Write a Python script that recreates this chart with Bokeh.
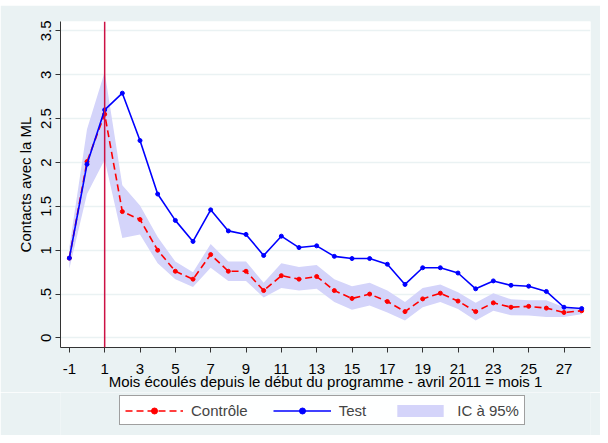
from bokeh.plotting import figure
from bokeh.models import (Range1d, FixedTicker, Legend, LegendItem, Span, Spacer)
from bokeh.layouts import column
from bokeh.embed import file_html
from bokeh.resources import INLINE

months = list(range(-1, 29))
test = [0.91, 1.98, 2.60, 2.79, 2.25, 1.64, 1.34, 1.10, 1.46, 1.22, 1.18, 0.94, 1.16, 1.03, 1.05,
        0.93, 0.905, 0.905, 0.84, 0.61, 0.80, 0.80, 0.74, 0.56, 0.65, 0.60, 0.59, 0.53, 0.35, 0.335]
controle = [0.91, 2.01, 2.55, 1.44, 1.35, 1.00, 0.76, 0.67, 0.95, 0.76, 0.76, 0.54, 0.71, 0.67, 0.70,
            0.54, 0.45, 0.50, 0.415, 0.30, 0.445, 0.51, 0.42, 0.30, 0.40, 0.35, 0.36, 0.34, 0.29, 0.31]
ic_haut = [1.03, 2.38, 3.03, 1.74, 1.51, 1.15, 0.87, 0.75, 1.07, 0.87, 0.87, 0.63, 0.85, 0.81, 0.83,
           0.67, 0.59, 0.63, 0.54, 0.41, 0.57, 0.61, 0.52, 0.40, 0.51, 0.44, 0.43, 0.43, 0.35, 0.33]
ic_bas = [0.79, 1.64, 2.03, 1.14, 1.18, 0.85, 0.67, 0.58, 0.80, 0.65, 0.65, 0.46, 0.57, 0.54, 0.56,
          0.41, 0.32, 0.37, 0.29, 0.20, 0.35, 0.41, 0.33, 0.20, 0.31, 0.26, 0.255, 0.24, 0.24, 0.27]
x_ticks = list(range(-1, 28, 2))
x_tick_labels = [str(t) for t in x_ticks]
y_ticks = [0, 0.5, 1, 1.5, 2, 2.5, 3, 3.5]
y_tick_labels = ["0", ".5", "1", "1.5", "2", "2.5", "3", "3.5"]
debut_programme = 1

BG = "#eaf2f3"
FONT = "Liberation Sans"
RED = "#ff0000"
BLUE = "#0000ff"
BAND = "#d4d4fa"

p = figure(width=600, height=387, output_backend="svg", toolbar_location=None,
           x_range=Range1d(-1.5, 28.5), y_range=Range1d(-0.109, 3.607),
           min_border_left=60, min_border_right=10, min_border_top=16, min_border_bottom=45)
p.border_fill_color = BG
p.background_fill_color = "white"
p.outline_line_color = None

p.xgrid.grid_line_color = None
p.ygrid.grid_line_color = BG
p.ygrid.grid_line_width = 1.5

p.varea(x=months, y1=ic_bas, y2=ic_haut, fill_color=BAND, fill_alpha=1.0)
p.add_layout(Span(location=debut_programme, dimension="height", line_color="#cc1144", line_width=1.5))

p.line(months, controle, line_color=RED, line_width=1.6, line_dash="7 4")
p.scatter(months, controle, size=4, color=RED)
p.line(months, test, line_color=BLUE, line_width=1.6)
p.scatter(months, test, size=4, color=BLUE)

for ax in (p.xaxis[0], p.yaxis[0]):
    ax.axis_line_color = "#333333"
    ax.major_tick_line_color = "#333333"
    ax.minor_tick_line_color = None
    ax.major_tick_out = 5
    ax.major_tick_in = 0
    ax.major_label_text_font = FONT
    ax.major_label_text_font_size = "15px"
    ax.major_label_text_color = "black"
    ax.axis_label_text_font = FONT
    ax.axis_label_text_font_size = "15px"
    ax.axis_label_text_font_style = "normal"
    ax.axis_label_text_color = "black"

p.xaxis.ticker = FixedTicker(ticks=x_ticks)
p.xaxis.major_label_overrides = {t: l for t, l in zip(x_ticks, x_tick_labels)}
p.xaxis.axis_label = "Mois écoulés depuis le début du programme - avril 2011 = mois 1"
p.xaxis.major_label_standoff = 11
p.xaxis.axis_label_standoff = -4

p.yaxis.ticker = FixedTicker(ticks=y_ticks)
p.yaxis.major_label_overrides = {t: l for t, l in zip(y_ticks, y_tick_labels)}
p.yaxis.major_label_orientation = "vertical"
p.yaxis.axis_label = "Contacts avec la ML"
p.yaxis.major_label_standoff = 4
p.yaxis.axis_label_standoff = 5

# legend strip below the chart
q = figure(width=600, height=43, output_backend="svg", toolbar_location=None,
           x_range=Range1d(0, 530), y_range=Range1d(0, 43),
           min_border_left=60, min_border_right=10, min_border_top=0, min_border_bottom=0)
q.axis.visible = False
q.grid.visible = False
q.outline_line_color = None
q.border_fill_color = BG
q.background_fill_color = BG
off_x = [-100, -90]
off_y = [-100, -100]
lc = q.line(off_x, off_y, line_color=RED, line_width=1.6, line_dash="7 4")
sc = q.scatter([-95], [-100], size=4, color=RED)
lt = q.line(off_x, off_y, line_color=BLUE, line_width=1.6)
st = q.scatter([-95], [-100], size=4, color=BLUE)
vb = q.varea(x=off_x, y1=[-110, -110], y2=[-100, -100], fill_color=BAND, fill_alpha=1.0)

legend = Legend(items=[
    LegendItem(label="Contrôle", renderers=[lc, sc]),
    LegendItem(label="Test", renderers=[lt, st]),
    LegendItem(label="IC à 95%", renderers=[vb]),
], orientation="horizontal", location=(59, 10))
legend.glyph_width = 58
legend.glyph_height = 15
legend.label_standoff = 8
legend.spacing = 25
legend.padding = 5
legend.margin = 0
legend.label_height = 18
legend.label_text_font = FONT
legend.label_text_font_size = "15px"
legend.border_line_color = "#404040"
legend.border_line_width = 1
legend.background_fill_color = "white"
q.add_layout(legend, "center")

layout = column(Spacer(width=600, height=5), p, q, spacing=0)
open("out.html", "w").write(file_html(layout, INLINE))
